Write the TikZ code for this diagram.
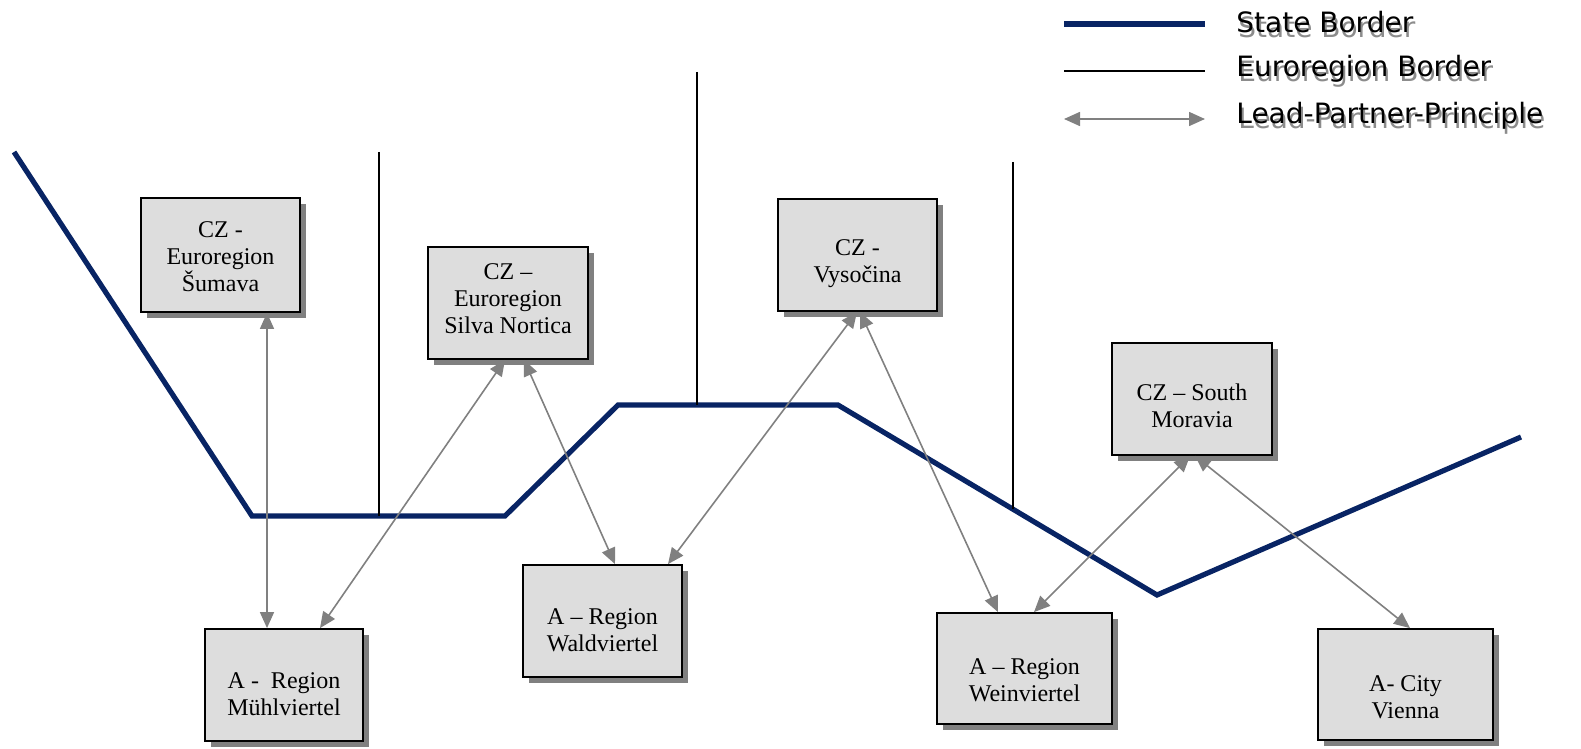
\documentclass[tikz,border=0pt]{standalone}
\usepackage{fontspec}
\setmainfont{Liberation Serif}
\newfontfamily\legendfont{DejaVu Sans}
\usetikzlibrary{arrows.meta,shadows}
\definecolor{navyborder}{RGB}{8,36,100}
\definecolor{boxfill}{RGB}{221,221,221}
\definecolor{shadowgray}{RGB}{128,128,128}
\definecolor{arrowgray}{RGB}{128,128,128}
\definecolor{legshadow}{RGB}{140,140,140}
\tikzset{
  regionbox/.style={draw=black, line width=0.9pt, fill=boxfill, inner sep=0pt,
    drop shadow={shadow xshift=3pt, shadow yshift=-3pt, fill=shadowgray, opacity=1}},
  boxtext/.style={align=center, inner sep=0pt, font=\fontsize{12}{13.5}\selectfont},
  stateline/.style={draw=navyborder, line width=2.6pt, line join=miter},
  euroline/.style={draw=black, line width=0.6pt},
  lpp/.style={draw=arrowgray, line width=0.8pt,
    {Triangle[length=8pt,width=7pt]}-{Triangle[length=8pt,width=7pt]}},
  legtext/.style={anchor=west, inner sep=0pt, font=\legendfont\fontsize{14}{16}\selectfont},
}
\begin{document}
\begin{tikzpicture}[x=0.5pt,y=-0.5pt]
\useasboundingbox (0,0) rectangle (1581,749);

% state border
\coordinate (s1) at (14,152);
\coordinate (s2) at (252,516);
\coordinate (s3) at (505,516);
\coordinate (s4) at (618,405);
\coordinate (s5) at (838,405);
\coordinate (s6) at (1157,595);
\coordinate (s7) at (1521,437);
\draw[stateline] (s1) -- (s2) -- (s3) -- (s4) -- (s5) -- (s6) -- (s7);

% euroregion borders
\coordinate (e1t) at (379,152);
\coordinate (e1b) at (379,516);
\coordinate (e2t) at (697,72);
\coordinate (e2b) at (697,405);
\coordinate (e3t) at (1013,162);
\coordinate (e3b) at (1013,509);
\draw[euroline] (e1t) -- (e1b);
\draw[euroline] (e2t) -- (e2b);
\draw[euroline] (e3t) -- (e3b);

% boxes
\node[regionbox, minimum width=79.5pt, minimum height=57pt] (sumava) at (220.5,255) {};
\node[regionbox, minimum width=80pt, minimum height=56pt] (silva) at (508,303) {};
\node[regionbox, minimum width=79.5pt, minimum height=56pt] (vysocina) at (857.5,255) {};
\node[regionbox, minimum width=80pt, minimum height=56pt] (moravia) at (1192,399) {};
\node[regionbox, minimum width=79pt, minimum height=56pt] (muehl) at (284,685) {};
\node[regionbox, minimum width=79.5pt, minimum height=56pt] (wald) at (602.5,621) {};
\node[regionbox, minimum width=87.5pt, minimum height=55.5pt] (wein) at (1024.5,668.5) {};
\node[regionbox, minimum width=87.5pt, minimum height=55.5pt] (vienna) at (1405.5,684.5) {};

% box texts
\node[boxtext] (tsumava) at (220.5,257) {CZ -\\Euroregion\\Šumava};
\node[boxtext] (tsilva) at (508,299) {CZ –\\Euroregion\\Silva Nortica};
\node[boxtext] (tvysocina) at (857.5,264) {CZ -\\Vysočina};
\node[boxtext] (tmoravia) at (1192,406) {CZ – South\\Moravia};
\node[boxtext] (tmuehl) at (284,694) {A -\ \ Region\\Mühlviertel};
\node[boxtext] (twald) at (602.5,630) {A – Region\\Waldviertel};
\node[boxtext] (twein) at (1024.5,680) {A – Region\\Weinviertel};
\node[boxtext] (tvienna) at (1405.5,697) {A- City\\Vienna};

% lead partner connectors
\draw[lpp] ([xshift=23.25pt]sumava.south) -- ([xshift=-8.5pt]muehl.north);
\draw[lpp] ([xshift=-1.5pt]silva.south) -- ([xshift=18pt]muehl.north);
\draw[lpp] ([xshift=8pt]silva.south) -- ([xshift=6.25pt]wald.north);
\draw[lpp] ([xshift=-0.25pt]vysocina.south) -- ([xshift=32.75pt]wald.north);
\draw[lpp] ([xshift=1.25pt]vysocina.south) -- ([xshift=-13.25pt]wein.north);
\draw[lpp] ([xshift=-1pt]moravia.south) -- ([xshift=4.75pt]wein.north);
\draw[lpp] ([xshift=1.5pt]moravia.south) -- ([xshift=2.25pt]vienna.north);

% legend
\coordinate (la1) at (1064,24);
\coordinate (lb1) at (1205,24);
\coordinate (la2) at (1064,71);
\coordinate (lb2) at (1205,71);
\coordinate (la3) at (1064,119);
\coordinate (lb3) at (1205,119);
\draw[stateline] (la1) -- (lb1);
\draw[euroline] (la2) -- (lb2);
\draw[lpp] (la3) -- (lb3);
\node[legtext, text=legshadow, xshift=1pt, yshift=-2.5pt] (g1s) at (1236,22) {State Border};
\node[legtext] (g1) at (1236,22) {State Border};
\node[legtext, text=legshadow, xshift=1pt, yshift=-2.5pt] (g2s) at (1236,69) {Euroregion Border};
\node[legtext] (g2) at (1236,69) {Euroregion Border};
\node[legtext, text=legshadow, xshift=1pt, yshift=-2.5pt] (g3s) at (1236,116) {Lead-Partner-Principle};
\node[legtext] (g3) at (1236,116) {Lead-Partner-Principle};
\end{tikzpicture}
\end{document}
